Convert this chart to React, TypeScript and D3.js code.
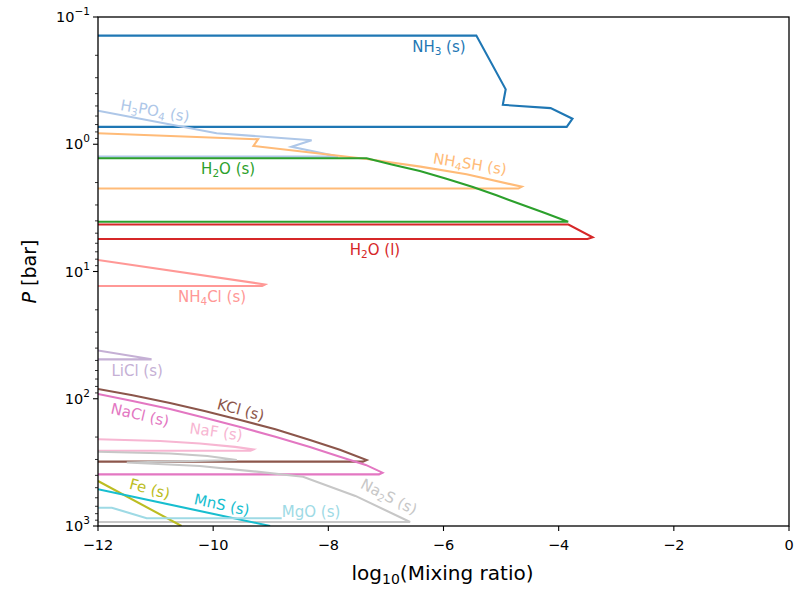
import React from "react";
import * as d3 from "d3";

const W = 794;
const H = 590;
const PL = 98, PR = 789, PT = 17, PB = 526;

// x = log10(mixing ratio), P in bar
const xTicks = [-12, -10, -8, -6, -4, -2, 0];
const yTickExps = [-1, 0, 1, 2, 3];

const nh3 = [[-12, 0.14], [-5.43, 0.14], [-4.92, 0.37], [-4.97, 0.49], [-4.14, 0.52], [-3.76, 0.63], [-3.86, 0.73], [-12, 0.73]];
const h3po4 = [[-12, 0.545], [-9.94, 0.82], [-8.29, 0.93], [-8.64, 1.045], [-7.83, 1.25], [-12, 1.25]];
const nh4sh = [[-12, 0.82], [-9.22, 0.914], [-9.3, 1.032], [-7.33, 1.306], [-6.4, 1.5], [-5.6, 1.72], [-4.64, 2.157], [-4.7, 2.23], [-12, 2.23]];
const h2oS = [[-12, 1.29], [-7.335, 1.29], [-6.9, 1.44], [-6.41, 1.62], [-5.95, 1.87], [-5.49, 2.17], [-5.08, 2.52], [-4.67, 2.95], [-4.25, 3.45], [-3.835, 4.06], [-12, 4.06]];
const h2oL = [[-12, 4.27], [-3.83, 4.27], [-3.41, 5.38], [-3.5, 5.55], [-12, 5.55]];
const nh4cl = [[-12, 8.12], [-9.1, 12.65], [-9.15, 13.0], [-12, 13.0]];
const licl = [[-12, 41.8], [-11.07, 49.0], [-12, 49.0]];
const kcl = [[-12, 83.8], [-11.4, 94], [-10.75, 108], [-10.15, 125], [-9.53, 146.9], [-8.92, 174], [-8.32, 211], [-7.8, 252], [-7.335, 303], [-7.4, 312], [-12, 312]];
const nacl = [[-12, 91.8], [-11.4, 104], [-10.75, 120.4], [-10.15, 141], [-9.53, 166.7], [-8.92, 199], [-8.32, 239], [-7.8, 285], [-7.35, 331], [-7.06, 381], [-7.12, 393], [-12, 393]];
const naf = [[-12, 208], [-10.92, 215], [-10.23, 225], [-9.62, 239], [-9.3, 250], [-9.35, 256], [-12, 256]];
const na2s = [[-12, 260.6], [-10.75, 269], [-10.1, 282], [-9.59, 303], [-11.5, 317], [-10.23, 338], [-9.245, 374], [-8.44, 410], [-7.53, 580], [-6.58, 930], [-12, 930]];
const fe = [[-12, 442.6], [-10.55, 1000]];
const mns = [[-12, 514.6], [-9.01, 1000]];
const mgo = [[-12, 718], [-11.76, 718], [-11.155, 870], [-8.81, 870]];

const species = [
  { name: "NH3", data: nh3, color: "#1f77b4" },
  { name: "H3PO4", data: h3po4, color: "#aec7e8" },
  { name: "NH4SH", data: nh4sh, color: "#ffbb78" },
  { name: "H2O_s", data: h2oS, color: "#2ca02c" },
  { name: "H2O_l", data: h2oL, color: "#d62728" },
  { name: "NH4Cl", data: nh4cl, color: "#ff9896" },
  { name: "LiCl", data: licl, color: "#c5b0d5" },
  { name: "KCl", data: kcl, color: "#8c564b" },
  { name: "NaCl", data: nacl, color: "#e377c2" },
  { name: "NaF", data: naf, color: "#f7b6d2" },
  { name: "Na2S", data: na2s, color: "#c7c7c7" },
  { name: "Fe", data: fe, color: "#bcbd22" },
  { name: "MnS", data: mns, color: "#17becf" },
  { name: "MgO", data: mgo, color: "#9edae5" },
];

// label text ("_n" = subscript), anchor in data coords, rotation in degrees
const labels = [
  { text: "NH_3 (s)", x: -6.08, p: 0.172, rot: 0, color: "#1f77b4" },
  { text: "H_3PO_4 (s)", x: -11.01, p: 0.549, rot: 10, color: "#aec7e8" },
  { text: "H_2O (s)", x: -9.74, p: 1.565, rot: 0, color: "#2ca02c" },
  { text: "NH_4SH (s)", x: -5.54, p: 1.43, rot: 9, color: "#ffbb78" },
  { text: "H_2O (l)", x: -7.19, p: 6.77, rot: 0, color: "#d62728" },
  { text: "NH_4Cl (s)", x: -10.02, p: 15.86, rot: 0, color: "#ff9896" },
  { text: "LiCl (s)", x: -11.32, p: 60.5, rot: 0, color: "#c5b0d5" },
  { text: "KCl (s)", x: -9.52, p: 122.6, rot: 15, color: "#8c564b" },
  { text: "NaCl (s)", x: -11.27, p: 134.3, rot: 13, color: "#e377c2" },
  { text: "NaF (s)", x: -9.95, p: 182.5, rot: 8, color: "#f7b6d2" },
  { text: "Na_2S (s)", x: -6.95, p: 591, rot: 27, color: "#c7c7c7" },
  { text: "Fe (s)", x: -11.1, p: 512, rot: 15, color: "#bcbd22" },
  { text: "MnS (s)", x: -9.85, p: 684, rot: 12, color: "#17becf" },
  { text: "MgO (s)", x: -8.3, p: 776, rot: 0, color: "#9edae5" },
];

const FONT = "DejaVu Sans, sans-serif";

function SubText({ text, size }: { text: string; size: number }) {
  const parts = text.split(/(_\d+)/).filter((s) => s.length > 0);
  const out: React.ReactNode[] = [];
  let shifted = false;
  parts.forEach((p, i) => {
    if (p.startsWith("_")) {
      out.push(
        <tspan key={i} dy={size * 0.28} fontSize={size * 0.7}>
          {p.slice(1)}
        </tspan>
      );
      shifted = true;
    } else {
      out.push(
        <tspan key={i} dy={shifted ? -size * 0.28 : 0}>
          {p}
        </tspan>
      );
      shifted = false;
    }
  });
  return <>{out}</>;
}

export default function App() {
  const x = d3.scaleLinear().domain([-12, 0]).range([PL, PR]);
  const y = d3.scaleLog().domain([0.1, 1000]).range([PT, PB]);
  const line = d3
    .line<number[]>()
    .x((d) => x(d[0]))
    .y((d) => y(d[1]));

  const minorTicks: number[] = [];
  for (let e = -1; e < 3; e++) {
    for (let m = 2; m <= 9; m++) minorTicks.push(m * Math.pow(10, e));
  }

  return (
    <svg width={W} height={H} style={{ position: "absolute", left: 0, top: 0, background: "#fff" }} fontFamily={FONT}>
      <defs>
        <clipPath id="plotclip">
          <rect x={PL} y={PT} width={PR - PL} height={PB - PT} />
        </clipPath>
      </defs>
      <rect x={0} y={0} width={W} height={H} fill="#fff" />
      <g clipPath="url(#plotclip)">
        {species.map((s) => (
          <path key={s.name} d={line(s.data as number[][]) || ""} fill="none" stroke={s.color} strokeWidth={2.1} strokeLinejoin="miter" />
        ))}
        {labels.map((l, i) => (
          <text
            key={i}
            x={0}
            y={0}
            transform={`translate(${x(l.x)},${y(l.p)}) rotate(${l.rot})`}
            textAnchor="middle"
            dominantBaseline="central"
            fontSize={15}
            fill={l.color}
          >
            <SubText text={l.text} size={15} />
          </text>
        ))}
      </g>
      <rect x={PL} y={PT} width={PR - PL} height={PB - PT} fill="none" stroke="#000" strokeWidth={1.3} />
      {/* x axis */}
      {xTicks.map((t) => (
        <g key={t}>
          <line x1={x(t)} x2={x(t)} y1={PB} y2={PB + 5} stroke="#000" strokeWidth={1.1} />
          <text x={x(t)} y={PB + 24} textAnchor="middle" fontSize={14.5} fill="#000">
            {t < 0 ? "\u2212" + Math.abs(t) : String(t)}
          </text>
        </g>
      ))}
      {/* y axis */}
      {minorTicks.map((t, i) => (
        <line key={i} x1={PL - 3} x2={PL} y1={y(t)} y2={y(t)} stroke="#000" strokeWidth={0.8} />
      ))}
      {yTickExps.map((e) => (
        <g key={e}>
          <line x1={PL - 5} x2={PL} y1={y(Math.pow(10, e))} y2={y(Math.pow(10, e))} stroke="#000" strokeWidth={1.1} />
          <text x={PL - 8} y={y(Math.pow(10, e)) + 5} textAnchor="end" fontSize={14.5} fill="#000">
            <tspan>10</tspan>
            <tspan dy={-7} fontSize={10.5}>{e < 0 ? "\u2212" + Math.abs(e) : String(e)}</tspan>
          </text>
        </g>
      ))}
      <text x={(PL + PR) / 2 - 1} y={580} textAnchor="middle" fontSize={20} fill="#000">
        <tspan>log</tspan>
        <tspan dy={4} fontSize={14}>10</tspan>
        <tspan dy={-4}>(Mixing ratio)</tspan>
      </text>
      <text transform={`translate(36,${(PT + PB) / 2}) rotate(-90)`} textAnchor="middle" fontSize={19} fill="#000">
        <tspan fontStyle="italic">P</tspan>
        <tspan> [bar]</tspan>
      </text>
    </svg>
  );
}
